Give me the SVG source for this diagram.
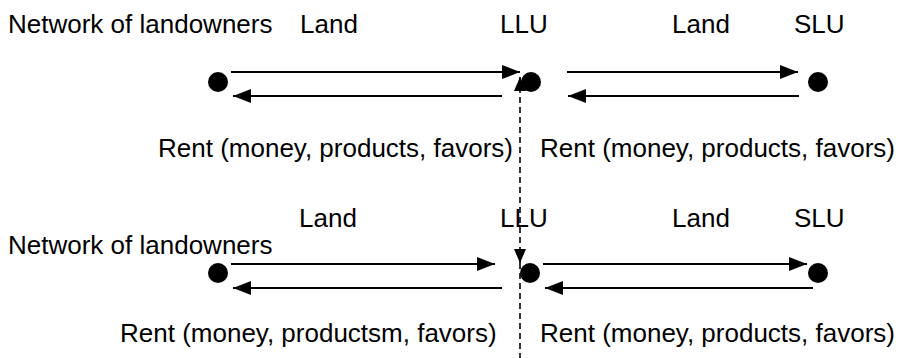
<svg xmlns="http://www.w3.org/2000/svg" width="906" height="358" viewBox="0 0 906 358">
<style>
text{font-family:"Liberation Sans",Arial,sans-serif;font-size:26px;fill:#000}
.ln{stroke:#000;stroke-width:2;fill:none}
.ds{stroke:#000;stroke-width:1.6;fill:none;stroke-dasharray:6,4}
.dot{fill:#000}
</style>
<defs>
<marker id="ah" markerUnits="userSpaceOnUse" markerWidth="19" markerHeight="15" refX="18" refY="7" orient="auto-start-reverse"><path d="M0,0 L18,7 L0,14 z" fill="#000"/></marker>
<marker id="ahs" markerUnits="userSpaceOnUse" markerWidth="15" markerHeight="13" refX="14" refY="6" orient="auto-start-reverse"><path d="M0,0 L14,6 L0,12 z" fill="#000"/></marker>
</defs>
<g id="labels">
<text x="8" y="33">Network of landowners</text>
<text x="300" y="33">Land</text>
<text x="500" y="33">LLU</text>
<text x="672" y="33">Land</text>
<text x="794" y="33">SLU</text>
<text x="158" y="157">Rent (money, products, favors)</text>
<text x="540" y="157">Rent (money, products, favors)</text>
<text x="299" y="227">Land</text>
<text x="500" y="227">LLU</text>
<text x="672" y="227">Land</text>
<text x="794" y="227">SLU</text>
<text x="8" y="254">Network of landowners</text>
<text x="120" y="342">Rent (money, productsm, favors)</text>
<text x="540" y="342">Rent (money, products, favors)</text>
</g>
<g id="node-network-top"><circle class="dot" cx="218" cy="82" r="10"/></g>
<g id="node-llu-top"><circle class="dot" cx="531" cy="82" r="10"/></g>
<g id="node-slu-top"><circle class="dot" cx="818" cy="82" r="10"/></g>
<g id="node-network-bottom"><circle class="dot" cx="218" cy="273" r="10"/></g>
<g id="node-llu-bottom"><circle class="dot" cx="530" cy="273" r="10"/></g>
<g id="node-slu-bottom"><circle class="dot" cx="818" cy="273" r="10"/></g>
<g id="connectors">
<path class="ln" d="M231,72 H520" marker-end="url(#ah)"/>
<path class="ln" d="M502,96 H233" marker-end="url(#ah)"/>
<path class="ln" d="M567,72 H798" marker-end="url(#ah)"/>
<path class="ln" d="M799,96 H568" marker-end="url(#ah)"/>
<path class="ln" d="M231,264 H495" marker-end="url(#ah)"/>
<path class="ln" d="M502,288 H233" marker-end="url(#ah)"/>
<path class="ln" d="M543,264 H807" marker-end="url(#ah)"/>
<path class="ln" d="M813,288 H545" marker-end="url(#ah)"/>
<path class="ds" d="M520,263 V77" marker-start="url(#ahs)" marker-end="url(#ahs)"/>
<path class="ds" d="M520,263 V358"/>
</g>
</svg>
